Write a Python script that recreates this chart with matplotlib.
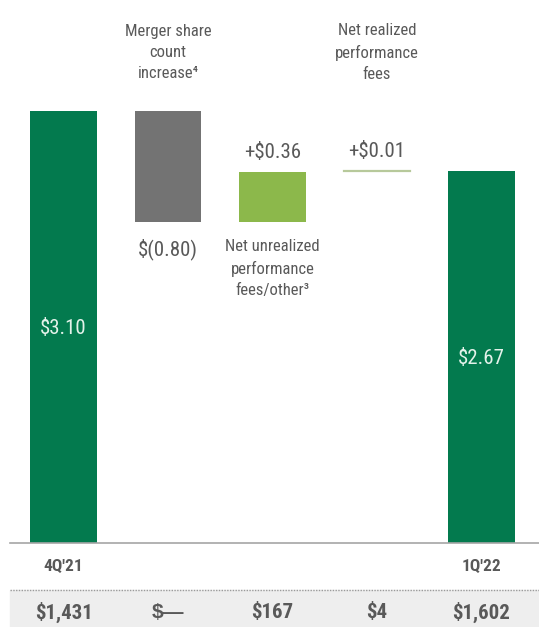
import matplotlib
matplotlib.use("Agg")
import matplotlib.pyplot as plt
from matplotlib.patches import Rectangle

plt.rcParams['font.family'] = ['Roboto Condensed', 'DejaVu Sans']

# EPS bridge, 4Q'21 -> 1Q'22
steps = ["4Q'21", "Merger share count increase", "Net unrealized performance fees/other",
         "Net realized performance fees", "1Q'22"]
start_eps = 3.10
changes = [-0.80, 0.36, 0.01]
end_eps = 2.67
step_labels = ["$3.10", "$(0.80)", "+$0.36", "+$0.01", "$2.67"]
period_labels = ["4Q'21", "", "", "", "1Q'22"]
income = ["$1,431", "$\u2014", "$167", "$4", "$1,602"]

DARK = "#037A4E"
GREY_BAR = "#737373"
LIGHT = "#8CB84B"
TXT = "#595959"

fig = plt.figure(figsize=(5.39, 6.27), dpi=100)
ax = fig.add_axes([0, 0, 1, 1])
ax.set_xlim(-0.608, 4.55)
ax.set_ylim(-0.603, 3.895)
ax.axis("off")

w = 0.64
x = list(range(5))

# totals
ax.bar(x[0], start_eps, width=w, color=DARK)
ax.bar(x[4], end_eps, width=w, color=DARK)

# floating steps
level = start_eps
bottoms = []
for c in changes:
    bottoms.append(level)
    level += c
ax.bar(x[1], changes[0], bottom=bottoms[0], width=w, color=GREY_BAR)
ax.bar(x[2], changes[1], bottom=bottoms[1], width=w, color=LIGHT)
top3 = bottoms[2] + changes[2]
ax.plot([x[3] - w / 2, x[3] + w / 2], [top3, top3], color="#B7C99B", lw=1.6)

# values inside total bars
ax.text(x[0], start_eps / 2 - 0.01, step_labels[0], ha="center", va="center",
        color="#E3F2EA", fontsize=15)
ax.text(x[4], end_eps / 2 - 0.01, step_labels[4], ha="center", va="center",
        color="#E3F2EA", fontsize=15)

# step values
ax.text(x[1], bottoms[0] + changes[0] - 0.19, step_labels[1], ha="center", va="center",
        color=TXT, fontsize=15)
ax.text(x[2], bottoms[1] + changes[1] + 0.14, step_labels[2], ha="center", va="center",
        color=TXT, fontsize=15)
ax.text(x[3], top3 + 0.14, step_labels[3], ha="center", va="center",
        color=TXT, fontsize=15)

# step descriptions
desc = dict(ha="center", va="center", color=TXT, fontsize=12, linespacing=1.5)
ax.text(x[1], 3.52, "Merger share\ncount\nincrease\u2074", **desc)
ax.text(x[3], 3.52, "Net realized\nperformance\nfees", **desc)
ax.text(x[2], 1.97, "Net unrealized\nperformance\nfees/other\u00b3", **desc)

# baseline
ax.plot([-0.51, 4.55], [0, 0], color="#A6A6A6", lw=1.2, clip_on=False)

# period labels
for xi, lab in zip(x, period_labels):
    if lab:
        ax.text(xi, -0.172, lab, ha="center", va="center", color=TXT,
                fontsize=12.5, fontweight="bold")

# income row
ax.add_patch(Rectangle((-0.51, -0.603), 5.1, 0.262, color="#EEEEEE", zorder=0))
ax.plot([-0.51, 4.55], [-0.341, -0.341], color="#9A9A9A", lw=1, ls=(0, (1, 1)))
for xi, val in zip(x, income):
    # the condensed face draws a short em dash, so the empty cell uses a wider one
    fam = ['Liberation Sans', 'DejaVu Sans'] if '\u2014' in val else None
    ax.text(xi, -0.5, val, ha="center", va="center", color=TXT,
            fontsize=15, fontweight="bold", family=fam)

fig.savefig("out.png", dpi=100)
